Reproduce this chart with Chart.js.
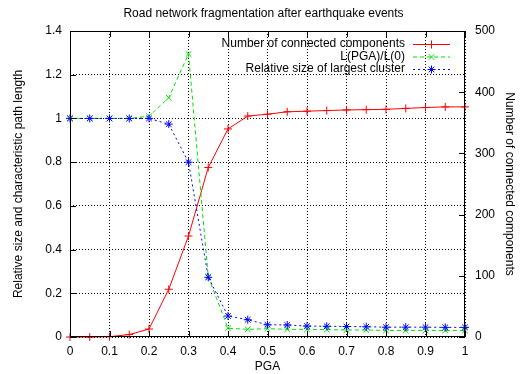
<!DOCTYPE html>
<html>
<head>
<meta charset="utf-8">
<script src="https://cdn.jsdelivr.net/npm/chart.js@4"></script>
<style>
  html, body { margin: 0; padding: 0; background: #fff; }
  #wrap { width: 527px; height: 374px; }
</style>
</head>
<body>
<div id="wrap"><canvas id="chart"></canvas></div>
<script>
const pga = [0, 0.05, 0.1, 0.15, 0.2, 0.25, 0.3, 0.35, 0.4, 0.45, 0.5,
  0.55, 0.6, 0.65, 0.7, 0.75, 0.8, 0.85, 0.9, 0.95, 1];
const components = [0, 0, 0.5, 4, 13, 78, 165, 277, 340, 361, 364,
  368, 369, 370, 371, 371.5, 372, 373.5, 375, 376, 376];
const pathRatio = [1, 1, 1, 1, 1.01, 1.095, 1.295, 0.276, 0.04, 0.035, 0.038,
  0.035, 0.035, 0.034, 0.032, 0.032, 0.03, 0.03, 0.03, 0.03, 0.03];
const largestCluster = [1, 1, 1, 1, 1, 0.974, 0.8, 0.273, 0.096, 0.079, 0.056,
  0.055, 0.05, 0.049, 0.048, 0.047, 0.045, 0.045, 0.045, 0.044, 0.044];
const seriesNames = ['Number of connected components', 'L(PGA)/L(0)', 'Relative size of largest cluster'];

const FONT = "'Liberation Sans', Arial, sans-serif";
const RED = '#ff0000', GREEN = '#00e000', BLUE = '#0000ff';

Chart.defaults.font.family = FONT;
Chart.defaults.font.size = 12;
Chart.defaults.color = '#000';

const pts = ys => pga.map((x, i) => ({ x, y: ys[i] }));
// gnuplot prints 1 not 1.0, 0 not 0.0
const plainNum = v => String(+Number(v).toFixed(2));

// gnuplot-ish frame, inward ticks and key
const gnuplotFrame = {
  id: 'gnuplotFrame',
  afterDraw(chart) {
    const { ctx, chartArea: a, scales } = chart;
    ctx.save();
    ctx.strokeStyle = '#000';
    ctx.lineWidth = 1;
    ctx.setLineDash([]);
    ctx.strokeRect(a.left + 0.5, a.top + 0.5, a.right - a.left - 1, a.bottom - a.top - 1);
    const L = 6;
    ctx.beginPath();
    scales.x.ticks.forEach(t => {
      const px = Math.round(scales.x.getPixelForValue(t.value)) + 0.5;
      ctx.moveTo(px, a.bottom); ctx.lineTo(px, a.bottom - L);
      ctx.moveTo(px, a.top); ctx.lineTo(px, a.top + L);
    });
    scales.y.ticks.forEach(t => {
      const py = Math.round(scales.y.getPixelForValue(t.value)) + 0.5;
      ctx.moveTo(a.left, py); ctx.lineTo(a.left + L, py);
    });
    scales.y2.ticks.forEach(t => {
      const py = Math.round(scales.y2.getPixelForValue(t.value)) + 0.5;
      ctx.moveTo(a.right, py); ctx.lineTo(a.right - L, py);
    });
    ctx.stroke();

    // key
    ctx.font = '12px ' + FONT;
    ctx.textAlign = 'right';
    ctx.textBaseline = 'middle';
    ctx.fillStyle = '#000';
    const textX = a.right - 60, x0 = a.right - 52, x1 = a.right - 15;
    chart.data.datasets.forEach((ds, i) => {
      const y = a.top + 13 + i * 12.5;
      ctx.fillText(seriesNames[i], textX, y);
      ctx.strokeStyle = ds.borderColor;
      ctx.lineWidth = 1;
      ctx.setLineDash(ds.borderDash || []);
      ctx.beginPath();
      ctx.moveTo(x0, y + 0.5); ctx.lineTo(x1, y + 0.5);
      ctx.stroke();
      ctx.setLineDash([]);
      ctx.lineWidth = ds.pointBorderWidth;
      Chart.helpers.drawPoint(ctx, { pointStyle: ds.pointStyle, radius: ds.pointRadius, rotation: 0, borderWidth: ds.pointBorderWidth }, (x0 + x1) / 2, y + 0.5);
    });
    ctx.restore();
  }
};

new Chart(document.getElementById('chart'), {
  type: 'line',
  data: {
    datasets: [
      {
        label: seriesNames[0],
        data: pts(components),
        yAxisID: 'y2',
        borderColor: RED,
        backgroundColor: RED,
        borderWidth: 1,
        pointStyle: 'cross',
        pointRadius: 4,
        pointBorderWidth: 1,
        clip: false,
        order: 3
      },
      {
        label: seriesNames[1],
        data: pts(pathRatio),
        yAxisID: 'y',
        borderColor: GREEN,
        backgroundColor: GREEN,
        borderWidth: 1,
        borderDash: [4, 3],
        pointStyle: 'crossRot',
        pointRadius: 4,
        pointBorderWidth: 1,
        clip: false,
        order: 2
      },
      {
        label: seriesNames[2],
        data: pts(largestCluster),
        yAxisID: 'y',
        borderColor: BLUE,
        backgroundColor: BLUE,
        borderWidth: 1,
        borderDash: [2, 3],
        pointStyle: 'star',
        pointRadius: 4,
        pointBorderWidth: 1,
        clip: false,
        order: 1
      }
    ]
  },
  options: {
    animation: false,
    responsive: true,
    maintainAspectRatio: false,
    layout: { padding: 0 },
    plugins: {
      legend: { display: false },
      tooltip: { enabled: false },
      title: {
        display: true,
        text: 'Road network fragmentation after earthquake events',
        font: { size: 12, weight: 'normal' },
        color: '#000',
        padding: { top: 6, bottom: 10.6 }
      }
    },
    scales: {
      x: {
        type: 'linear',
        min: 0,
        max: 1,
        afterFit: s => { s.height = 37; },
        ticks: { stepSize: 0.1, padding: 7, maxRotation: 0, callback: plainNum },
        grid: { color: '#000', drawTicks: false, lineWidth: 1 },
        border: { display: false, dash: [1, 2] },
        title: { display: true, text: 'PGA', padding: { top: 0, bottom: 0 } }
      },
      y: {
        position: 'left',
        min: 0,
        max: 1.4,
        afterFit: s => { s.width = 70; },
        ticks: { stepSize: 0.2, padding: 8, callback: plainNum },
        grid: { color: '#000', drawTicks: false, lineWidth: 1 },
        border: { display: false, dash: [1, 2] },
        title: { display: true, text: 'Relative size and characteristic path length', padding: { top: 11, bottom: 0 } }
      },
      y2: {
        position: 'right',
        min: 0,
        max: 500,
        afterFit: s => { s.width = 62; },
        ticks: { stepSize: 100, padding: 10 },
        grid: { drawOnChartArea: false, drawTicks: false },
        border: { display: false },
        title: { display: true, text: 'Number of connected components', padding: { top: 10, bottom: 0 } }
      }
    }
  },
  plugins: [gnuplotFrame]
});
</script>
</body>
</html>
